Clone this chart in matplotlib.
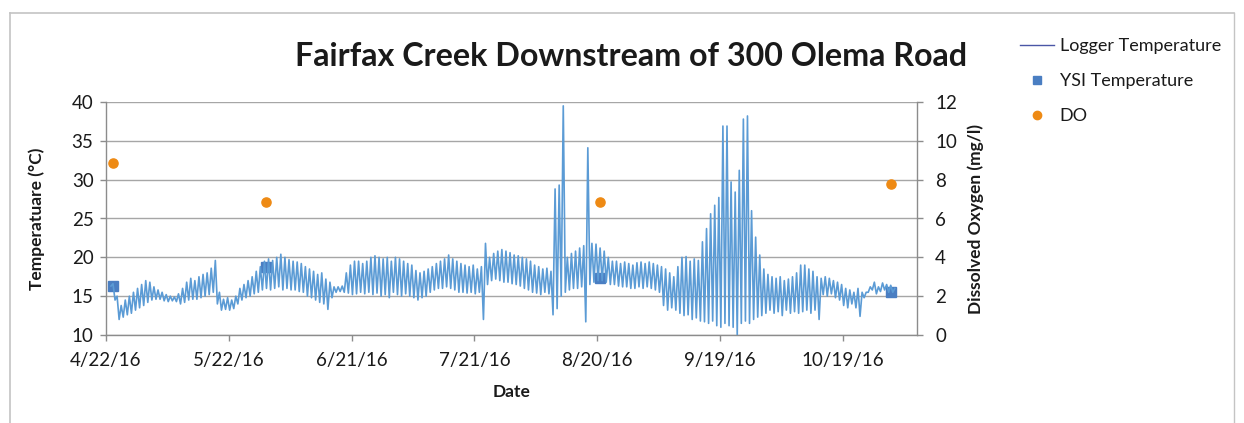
import pandas as pd
import matplotlib
matplotlib.use("Agg")
import matplotlib.pyplot as plt
from matplotlib.lines import Line2D

plt.rcParams['font.family'] = ['Lato', 'DejaVu Sans']

W, H = 1244, 423

# Continuous logger: daily low (early morning) and high (late afternoon), from 4/23/16
logger_first_day = '2016-04-23'
logger_low = [
    16.3, 14.5, 12.0, 12.3, 12.6, 12.8, 13.2, 13.5, 13.8, 14.2,
    14.5, 14.6, 14.6, 14.4, 14.3, 14.4, 14.3, 14.0, 14.2, 14.5,
    14.6, 14.6, 14.8, 15.0, 15.2, 15.5, 14.0, 13.2, 13.3, 13.2,
    13.4, 14.0, 14.5, 14.8, 15.0, 15.3, 15.5, 15.8, 16.0, 15.8,
    16.0, 16.2, 15.8, 16.0, 15.8, 15.8, 15.6, 15.5, 15.0, 14.8,
    14.5, 14.2, 14.0, 13.3, 14.8, 15.5, 15.6, 15.5, 15.4, 15.2,
    15.3, 15.5, 15.3, 15.5, 15.2, 15.4, 15.0, 15.2, 14.8, 15.5,
    15.2, 15.0, 15.3, 15.0, 14.8, 14.5, 14.8, 15.0, 15.5, 15.8,
    16.0, 16.0, 16.2, 16.0, 15.8, 15.5, 15.5, 15.4, 15.5, 15.3,
    15.5, 12.0, 16.5, 17.0, 17.2, 17.0, 16.8, 16.8, 16.6, 16.5,
    16.3, 16.0, 15.8, 15.5, 15.4, 15.2, 15.5, 15.3, 12.6, 13.4,
    15.0, 15.5, 15.8, 16.0, 16.0, 16.2, 11.7, 16.5, 16.8, 17.0,
    17.0, 16.8, 16.5, 16.5, 16.3, 16.2, 16.2, 16.0, 16.0, 16.2,
    16.0, 16.2, 16.0, 15.8, 15.5, 13.8, 13.2, 13.5, 13.2, 12.8,
    12.5, 12.6, 12.0, 12.2, 11.8, 11.7, 11.5, 11.8, 11.2, 11.0,
    11.5, 11.2, 11.0, 10.0, 11.5, 11.8, 11.5, 12.0, 12.3, 12.5,
    12.8, 13.2, 12.8, 13.0, 12.5, 13.2, 12.8, 13.0, 12.8, 13.0,
    13.2, 12.8, 13.2, 12.0, 15.2, 15.0, 15.3, 14.8, 14.5, 13.8,
    13.5, 14.0, 13.5, 12.4, 14.8, 15.5, 15.8, 15.3, 15.6, 15.8,
    15.5, 15.5,
]
logger_high = [
    16.6, 15.0, 13.8, 14.5, 15.0, 15.5, 16.0, 16.5, 17.0, 16.8,
    16.2, 15.8, 15.5, 15.2, 15.0, 14.9, 15.3, 16.0, 16.8, 17.3,
    17.0, 17.5, 17.8, 18.0, 18.6, 19.6, 15.5, 14.6, 14.8, 14.5,
    15.0, 16.0, 16.5, 17.0, 17.5, 18.2, 18.8, 19.5, 19.8, 19.6,
    20.0, 20.4, 20.0, 19.7, 19.5, 19.4, 19.2, 18.8, 18.5, 18.2,
    17.8, 18.0, 17.2, 16.8, 16.2, 16.2, 16.3, 18.0, 19.0, 19.5,
    19.5, 19.2, 19.5, 20.0, 20.2, 20.0, 19.8, 20.0, 19.5, 20.0,
    19.8, 19.5, 19.2, 19.0, 18.3, 18.0, 18.2, 18.5, 18.8, 19.2,
    19.5, 19.8, 20.3, 19.8, 19.5, 19.2, 19.0, 18.8, 19.0, 18.5,
    18.8, 21.8, 20.0, 20.5, 20.8, 21.0, 20.8, 20.6, 20.3, 20.2,
    20.0, 19.8, 19.5, 19.0, 18.8, 18.5, 18.6, 18.2, 28.8, 29.3,
    39.5, 20.0, 20.5, 20.8, 21.2, 21.5, 34.1, 21.8, 21.7, 21.2,
    20.8, 20.0, 19.5, 19.5, 19.2, 19.4, 19.2, 19.0, 19.3, 19.4,
    19.2, 19.4, 19.2, 19.0, 18.8, 18.5, 18.0, 17.5, 18.8, 20.0,
    20.1, 19.5, 19.8, 19.6, 22.0, 23.7, 25.6, 26.7, 27.7, 36.9,
    36.9, 29.7, 28.4, 31.2, 37.8, 38.2, 26.0, 22.6, 20.3, 18.5,
    17.8, 17.5, 17.3, 17.5, 17.0, 17.2, 17.5, 18.0, 19.0, 19.0,
    18.5, 18.2, 17.5, 17.3, 17.5, 17.3, 17.0, 16.8, 16.5, 16.0,
    15.8, 15.5, 16.0, 15.5, 15.5, 16.2, 16.8, 16.2, 16.7, 16.5,
    16.4, 16.0,
]

# Field visits: YSI sonde temperature and dissolved oxygen
sample_times = ['2016-04-23 16:00', '2016-05-31 05:00',
                '2016-08-20 19:00', '2016-10-30 17:00']
ysi_temperature = [16.3, 18.7, 17.4, 15.6]
dissolved_oxygen = [8.85, 6.87, 6.87, 7.8]

date_ticks = ['4/22/16', '5/22/16', '6/21/16', '7/21/16',
              '8/20/16', '9/19/16', '10/19/16']
temp_ticks = [10, 15, 20, 25, 30, 35, 40]
do_ticks = [0, 2, 4, 6, 8, 10, 12]

# Interleave the daily extremes into one time series
day0 = pd.Timestamp(logger_first_day)
log_t, log_v = [], []
for i, (lo, hi) in enumerate(zip(logger_low, logger_high)):
    d = day0 + pd.Timedelta(days=i)
    log_t += [d + pd.Timedelta(hours=5), d + pd.Timedelta(hours=17)]
    log_v += [lo, hi]
log_t = pd.to_datetime(log_t)
samp_t = pd.to_datetime(sample_times)
tick_t = pd.to_datetime(date_ticks, format='%m/%d/%y')

LINE_C = '#5B9BD5'
YSI_C = '#4A7EC2'
DO_C = '#EE8A14'
AX_C = '#8C8C8C'
GRID_C = '#A6A6A6'
TXT_C = '#1A1A1A'
TICK_FS = 13.5

fig = plt.figure(figsize=(W / 100, H / 100), dpi=100)
fig.patch.set_facecolor('white')

ax = fig.add_axes([106 / W, 88 / H, 811 / W, 233 / H])
ax2 = ax.twinx()

ax.plot(samp_t, ysi_temperature, ls='none', marker='s', ms=7.2,
        color=YSI_C, zorder=2)
ax.plot(log_t, log_v, color=LINE_C, lw=1.2, zorder=3)
ax2.plot(samp_t, dissolved_oxygen, ls='none', marker='o', ms=6.6,
         color=DO_C, zorder=4)

ax.set_xlim(pd.Timestamp('2016-04-22'), pd.Timestamp('2016-11-06 03:00'))
ax.set_ylim(10, 40)
ax2.set_ylim(0, 12)

ax.set_xticks(tick_t)
ax.set_xticklabels(date_ticks)
ax.set_yticks(temp_ticks)
ax2.set_yticks(do_ticks)

ax.grid(axis='y', color=GRID_C, lw=1.0)
ax.set_axisbelow(True)

for a in (ax, ax2):
    for s in a.spines.values():
        s.set_color(AX_C)
        s.set_linewidth(1.0)
    a.spines['top'].set_visible(False)
ax.spines['right'].set_visible(False)
ax2.spines['left'].set_visible(False)
ax2.spines['bottom'].set_visible(False)

ax.tick_params(axis='x', direction='out', length=4, width=1, color=AX_C,
               labelsize=TICK_FS, labelcolor=TXT_C, pad=8)
ax.tick_params(axis='y', direction='out', length=4, width=1, color=AX_C,
               labelsize=TICK_FS, labelcolor=TXT_C, pad=5)
ax2.tick_params(axis='y', direction='out', length=4, width=1, color=AX_C,
                labelsize=TICK_FS, labelcolor=TXT_C, pad=9)

ax.set_ylabel('Temperatuare (°C)', fontsize=12.5, fontweight='bold', color=TXT_C)
ax.yaxis.set_label_coords((45 - 106) / 811, 0.5)
ax2.set_ylabel('Dissolved Oxygen (mg/l)', fontsize=12.5, fontweight='bold',
               color=TXT_C, rotation=90)
ax2.yaxis.set_label_coords((967 - 106) / 811, 0.5)
ax.set_xlabel('Date', fontsize=12.5, fontweight='bold', color=TXT_C)
ax.xaxis.set_label_coords(0.5, (335 - 384) / 233)

fig.text(631 / W, 1 - 57 / H, 'Fairfax Creek Downstream of 300 Olema Road',
         ha='center', va='center', fontsize=23.2, fontweight='bold', color=TXT_C)

handles = [
    Line2D([], [], color='#4A56A6', lw=1.0),
    Line2D([], [], ls='none', marker='s', ms=6, color=YSI_C),
    Line2D([], [], ls='none', marker='o', ms=6, color=DO_C),
]
fig.legend(handles, ['Logger Temperature', 'YSI Temperature', 'DO'],
           loc='upper left', bbox_to_anchor=(1020 / W, 1 - 38 / H),
           frameon=False, fontsize=13, handlelength=1.9, handletextpad=0.3,
           labelspacing=1.05, borderpad=0, borderaxespad=0, labelcolor=TXT_C)

# chart area frame
frame_c = '#C4C4C4'
fig.add_artist(Line2D([10 / W, 10 / W], [0, 1 - 13 / H], color=frame_c, lw=1.2))
fig.add_artist(Line2D([10 / W, 1234 / W], [1 - 13 / H, 1 - 13 / H], color=frame_c, lw=1.2))
fig.add_artist(Line2D([1234 / W, 1234 / W], [0, 1 - 13 / H], color=frame_c, lw=1.0))

fig.savefig('out.png', dpi=100)
